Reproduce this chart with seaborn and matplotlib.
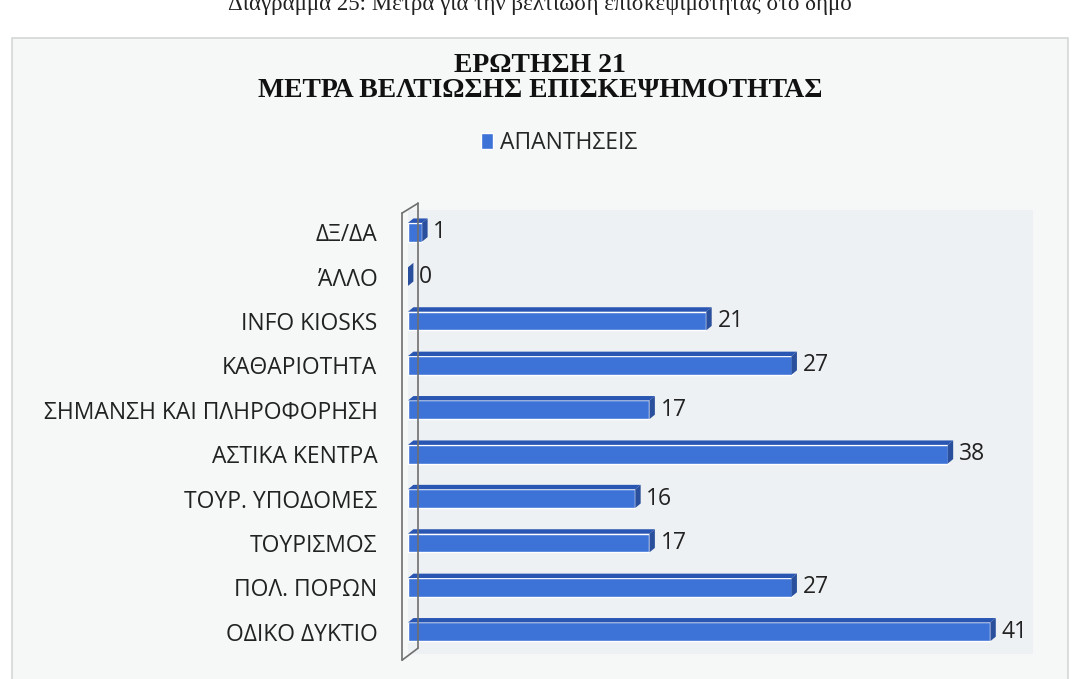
import numpy as np
import pandas as pd
import matplotlib
matplotlib.use('Agg')
import matplotlib.pyplot as plt
from matplotlib.patches import Polygon, Rectangle
import seaborn as sns

# data, top to bottom as in the chart
categories = ["ΔΞ/ΔΑ", "ΆΛΛΟ", "INFO KIOSKS", "ΚΑΘΑΡΙΟΤΗΤΑ", "ΣΗΜΑΝΣΗ ΚΑΙ ΠΛΗΡΟΦΟΡΗΣΗ",
              "ΑΣΤΙΚΑ ΚΕΝΤΡΑ", "ΤΟΥΡ. ΥΠΟΔΟΜΕΣ", "ΤΟΥΡΙΣΜΟΣ", "ΠΟΛ. ΠΟΡΩΝ", "ΟΔΙΚΟ ΔΥΚΤΙΟ"]
answers = [1, 0, 21, 27, 17, 38, 16, 17, 27, 41]
series_name = "ΑΠΑΝΤΗΣΕΙΣ"

df = pd.DataFrame({"cat": categories, "val": answers})

sns.set_style("white")
plt.rcParams['font.family'] = ['Open Sans', 'DejaVu Sans']

W, H = 1078, 679
fig = plt.figure(figsize=(W / 100, H / 100), dpi=100)
fig.patch.set_facecolor('white')

# chart frame
frame = Rectangle((12 / W, -0.05), 1056 / W, 1 - 38 / H + 0.05, transform=fig.transFigure,
                  facecolor='#f6f8f8', edgecolor='#d5d7d7', lw=1.2, zorder=-5)
fig.add_artist(frame)

ax = fig.add_axes([408 / W, 1 - 654 / H, 625 / W, 444 / H])
ax.set_facecolor('#eef1f3')

face = '#3d72d6'
top_c = '#2a56b3'
side_c = '#2a4f9c'
sns.barplot(data=df, y="cat", x="val", orient="h", color=face, width=0.42,
            saturation=1, label=series_name, ax=ax, zorder=3)

ax.set_xlim(0, 44)
ax.set_ylim(9.5, -0.5)

# fake 3d: top and side faces
dx, dy = 0.38, 0.1
for p in list(ax.patches):
    x, y, w, h = p.get_x(), p.get_y(), p.get_width(), p.get_height()
    ax.add_patch(Polygon([(x, y), (x + w, y), (x + w + dx, y - dy), (x + dx, y - dy)],
                         facecolor=top_c, edgecolor='none', zorder=3))
    ax.add_patch(Polygon([(x + w, y), (x + w + dx, y - dy), (x + w + dx, y + h - dy), (x + w, y + h)],
                         facecolor=side_c, edgecolor='none', zorder=3))

ax.bar_label(ax.containers[0], padding=8, fontsize=16.5, color='#222222')

# back wall lines
wall = dict(color='#6f6f6f', lw=1.2, clip_on=False, zorder=4)
ax.plot([-0.42, -0.42], [-0.43, 9.64], **wall)
ax.plot([0.7, 0.7], [-0.65, 9.37], **wall)
ax.plot([-0.42, 0.7], [-0.43, -0.65], **wall)
ax.plot([-0.42, 0.7], [9.64, 9.37], **wall)

for s in ax.spines.values():
    s.set_visible(False)
ax.set_xticks([])
ax.set_xlabel("")
ax.set_ylabel("")
ax.tick_params(axis='y', length=0, pad=22, labelsize=16.5, labelcolor='#222222')

leg = ax.legend(loc='center', bbox_to_anchor=(559 / W, 1 - 143 / H), bbox_transform=fig.transFigure,
                frameon=False, fontsize=16.5, handlelength=0.55, handleheight=0.7, handletextpad=0.3)

fig.text(0.501, 1 - 78 / H, "ΕΡΩΤΗΣΗ 21\nΜΕΤΡΑ ΒΕΛΤΙΩΣΗΣ ΕΠΙΣΚΕΨΗΜΟΤΗΤΑΣ", ha='center', va='center',
         family='Liberation Serif', fontweight='bold', fontsize=20, linespacing=1.05, color='#111111')
fig.text(0.501, 1 - 10 / H, "Διάγραμμα 25: Μέτρα για την βελτίωση επισκεψιμότητας στο δήμο",
         ha='center', va='baseline', family='Liberation Serif', fontsize=16.5, color='#222222')

fig.savefig("out.png", dpi=100, facecolor=fig.get_facecolor())
